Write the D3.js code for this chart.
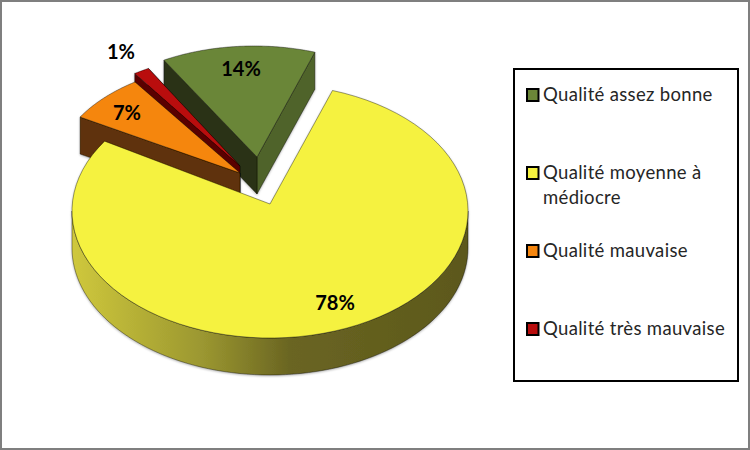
<!DOCTYPE html>
<html><head><meta charset="utf-8">
<script src="https://cdn.jsdelivr.net/npm/d3@7"></script>
<style>html,body{margin:0;padding:0;background:#fff}svg{display:block}</style>
</head><body><svg id="c" width="750" height="450"></svg>
<script>
const categories = ["Qualité assez bonne","Qualité moyenne à médiocre","Qualité mauvaise","Qualité très mauvaise"];
const values = [14, 77.6, 7, 1.4];
const pctLabels = ["14%","78%","7%","1%"];
const topColors = ["#6b8638","#f5f23f","#f5860f","#b90d0d"];
const startDeg = -30.4;

// Projection of each slice (3D view): ellipse of the rim, apex, angle trims for perspective
const views = [
 {cx:254,cy:149,rx:178,ry:103,ax:257,ay:157,lx:241,ly:68, trim0:0, trim1:0},
 {cx:270,cy:211,rx:198,ry:127,ax:270,ay:204,lx:335,ly:302,trim0:-1.6,trim1:4},
 {cx:244,cy:170,rx:188,ry:108,ax:240,ay:173,lx:127,ly:112,trim0:0, trim1:0},
 {cx:242,cy:159,rx:185,ry:105,ax:240,ay:166,lx:121,ly:51, trim0:0, trim1:0}
];
const depth = 37;
const svg = d3.select("#c");
const defs = svg.append("defs");
const shadow = defs.append("filter").attr("id","sh").attr("x","-10%").attr("y","-10%").attr("width","120%").attr("height","120%");
shadow.append("feDropShadow").attr("dx",0).attr("dy",1).attr("stdDeviation",1.2).attr("flood-color","#000").attr("flood-opacity",.3);
const grad = defs.append("linearGradient").attr("id","wall").attr("gradientUnits","userSpaceOnUse")
  .attr("x1",72).attr("x2",468).attr("y1",0).attr("y2",0);
[[0,"#cfc83c"],[.33,"#9b9730"],[.55,"#6a6522"],[1,"#5c581b"]].forEach(s=>grad.append("stop").attr("offset",s[0]).attr("stop-color",s[1]));

svg.append("rect").attr("x",1).attr("y",1).attr("width",748).attr("height",448).attr("fill","#fff").attr("stroke","#7f7f7f").attr("stroke-width",2);

const pie = d3.pie().sort(null).value(d=>d).startAngle(startDeg*Math.PI/180).endAngle((startDeg+360)*Math.PI/180);
const arcs = pie(values);
const line = d3.line();
const rimPt = (v,a)=>[v.cx+v.rx*Math.sin(a), v.cy-v.ry*Math.cos(a)];
const rim = (v,a0,a1,n=80)=>d3.range(n+1).map(i=>rimPt(v,a0+(a1-a0)*i/n));
const down = pts=>pts.map(p=>[p[0],p[1]+depth]);
const wallColors = [["#2a3316","#4f6329"],[null,"url(#wall)"],["#5f3207","#5f3207"],["#5a0505","#5a0505"]];
const outline = {stroke:"#000","stroke-opacity":.55,"stroke-width":.7,"stroke-linejoin":"round"};
function P(g,pts,fill){
  const p=g.append("path").attr("d",line(pts)+"Z").attr("fill",fill);
  Object.entries(outline).forEach(([k,v])=>p.attr(k,v));
  return p;
}
const pieG = svg.append("g").attr("filter","url(#sh)");
// drawing order: back to front
[0,3,2,1].forEach(i=>{
  const d=arcs[i], v=views[i], g=pieG.append("g");
  const a0=d.startAngle+v.trim0*Math.PI/180, a1=d.endAngle+v.trim1*Math.PI/180;
  const A=[v.ax,v.ay];
  const s=rimPt(v,a0), e=rimPt(v,a1);
  if(i===1){
    const low=rim(v,Math.PI/2,3*Math.PI/2);
    P(g,low.concat(down(low).reverse()),wallColors[1][1]);
  } else {
    P(g,[A,e,[e[0],e[1]+depth],[A[0],A[1]+depth]],wallColors[i][1]);
    P(g,[s,A,[A[0],A[1]+depth],[s[0],s[1]+depth]],wallColors[i][0]);
  }
  P(g,[A].concat(rim(v,a0,a1)),topColors[i]);
});
// data labels
const labelFont='"Lato","Open Sans",sans-serif';
views.forEach((v,i)=>{
  svg.append("text").attr("x",v.lx).attr("y",v.ly).attr("text-anchor","middle").attr("dominant-baseline","central")
    .attr("font-family",labelFont).attr("font-weight",700).attr("font-size",20).attr("fill","#000").text(pctLabels[i]);
});
// legend
svg.append("rect").attr("x",514).attr("y",69).attr("width",224).attr("height",312).attr("fill","#fff").attr("stroke","#000").attr("stroke-width",2);
const rowY = d3.scalePoint().domain(categories).range([95,329]);
const wrapped = {"Qualité moyenne à médiocre":["Qualité moyenne à","médiocre"]};
categories.forEach((c,i)=>{
  const y=rowY(c);
  svg.append("rect").attr("x",527).attr("y",y-6).attr("width",11.5).attr("height",12).attr("fill",topColors[i]).attr("stroke","#000").attr("stroke-width",2);
  const t=svg.append("text").attr("font-family",labelFont).attr("font-size",18.5).attr("letter-spacing",.33).attr("fill","#262626");
  (wrapped[c]||[c]).forEach((l,j)=>t.append("tspan").attr("x",543).attr("y",y+6+j*25).text(l));
});
</script></body></html>
